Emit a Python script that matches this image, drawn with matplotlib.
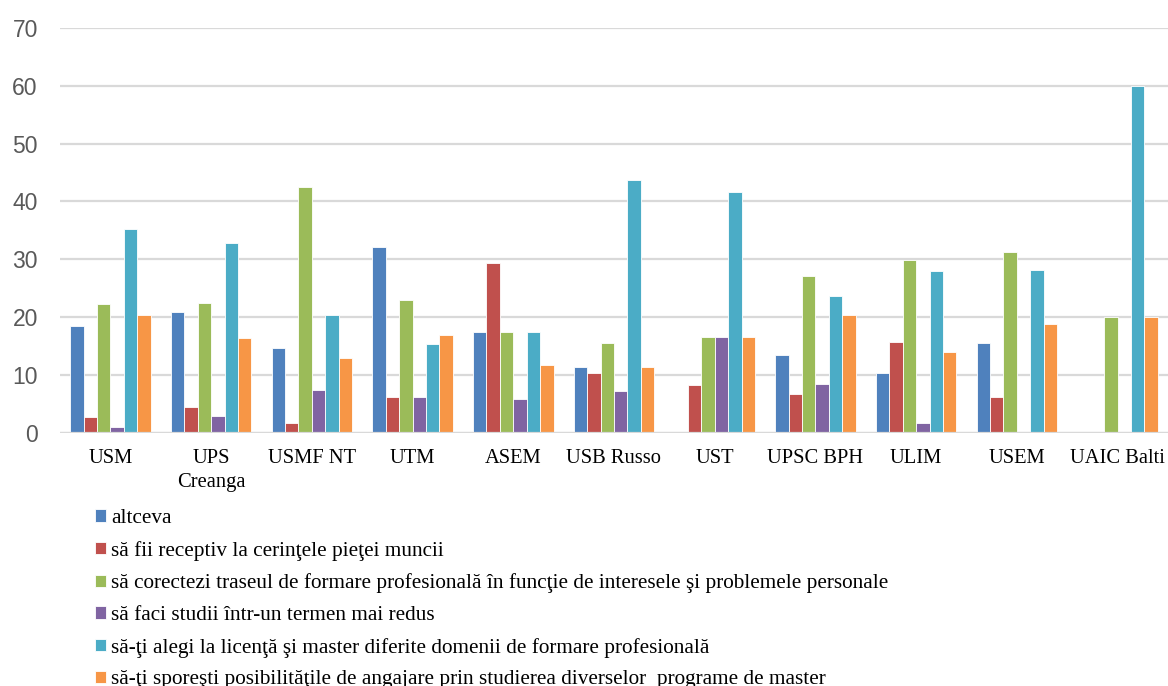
"""Grafic cu bare grupate: opţiuni ale studenţilor pe universităţi."""
import numpy as np
import matplotlib.pyplot as plt

universitati = ["USM", "UPS\nCreanga", "USMF NT", "UTM", "ASEM", "USB Russo",
                "UST", "UPSC BPH", "ULIM", "USEM", "UAIC Balti"]

serii = [
    "altceva",
    "să fii receptiv la cerinţele pieţei muncii",
    "să corectezi traseul de formare profesională în funcţie de interesele şi problemele personale",
    "să faci studii într-un termen mai redus",
    "să-ţi alegi la licenţă şi master diferite domenii de formare profesională",
    "să-ţi sporeşti posibilităţile de angajare prin studierea diverselor  programe de master",
]

altceva = [18.5, 20.8, 14.7, 32.2, 17.5, 11.3, 0, 13.5, 10.4, 15.6, 0]
receptiv = [2.7, 4.4, 1.7, 6.1, 29.4, 10.3, 8.3, 6.7, 15.7, 6.2, 0]
corectezi = [22.2, 22.4, 42.5, 23.0, 17.5, 15.6, 16.5, 27.1, 29.8, 31.2, 20.0]
redus = [0.9, 2.9, 7.3, 6.1, 5.8, 7.2, 16.5, 8.4, 1.7, 0, 0]
domenii = [35.2, 32.8, 20.3, 15.3, 17.5, 43.7, 41.6, 23.7, 28.0, 28.1, 60.0]
angajare = [20.3, 16.3, 12.9, 16.9, 11.7, 11.4, 16.5, 20.3, 14.0, 18.8, 20.0]

valori = [altceva, receptiv, corectezi, redus, domenii, angajare]
culori = ["#4F81BD", "#C0504D", "#9BBB59", "#8064A2", "#4BACC6", "#F79646"]

fig = plt.figure(figsize=(11.68, 6.86), dpi=100)
ax = fig.add_axes([60 / 1168, 1 - 432.7 / 686, 1 - 60 / 1168, (432.7 - 28) / 686])

x = np.arange(len(universitati))
w = 0.8 / 6
bare = []
for i, (v, c) in enumerate(zip(valori, culori)):
    b = ax.bar(x + (i - 2.5) * w, v, w, color=c, edgecolor="white", linewidth=0.6, zorder=3)
    bare.append(b)

ax.set_xlim(-0.5, len(universitati) - 0.5)
ax.set_ylim(0, 70)
ax.set_yticks(range(0, 71, 10))
ax.grid(axis="y", color="#D9D9D9", linewidth=1.6, zorder=0)
for s in ["top", "right", "left", "bottom"]:
    ax.spines[s].set_visible(False)
ax.axhline(0, color="#D9D9D9", linewidth=1.6, zorder=4)

ax.set_xticks(x)
ax.set_xticklabels(universitati, fontfamily="Liberation Serif", fontsize=14.8,
                   color="black", linespacing=1.3)
ax.tick_params(axis="x", length=0, pad=12)
ax.tick_params(axis="y", length=0, pad=16, labelsize=16.5, labelcolor="#595959")
for t in ax.get_yticklabels():
    t.set_fontfamily("Liberation Sans")

fig.legend(bare, serii, loc="upper left", bbox_to_anchor=(95 / 1168, 1 - 509 / 686),
           frameon=False, ncol=1, prop={"family": "Liberation Serif", "size": 15.3},
           handlelength=0.52, handleheight=0.52, handletextpad=0.25,
           labelspacing=0.6, borderpad=0, borderaxespad=0)

plt.savefig("out.png", dpi=100)
